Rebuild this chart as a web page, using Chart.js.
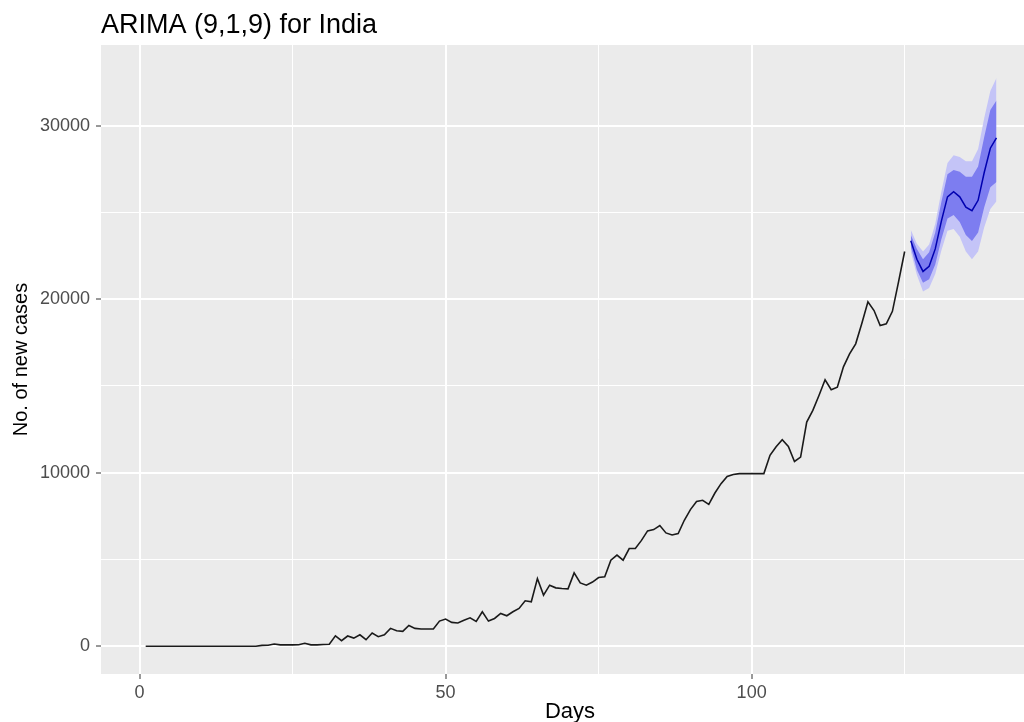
<!DOCTYPE html>
<html>
<head>
<meta charset="utf-8">
<script src="https://cdn.jsdelivr.net/npm/chart.js@4"></script>
<style>
  html, body { margin: 0; padding: 0; background: #fff; overflow: hidden; }
  #wrap { width: 1040px; height: 722px; }
</style>
</head>
<body>
<div id="wrap"><canvas id="myChart" width="1040" height="722"></canvas></div>
<script>
// Data
const chartTitle = "ARIMA (9,1,9) for India";
const xTitle = "Days";
const yTitle = "No. of new cases";

// observed new cases, day 1 .. 125
const obsCases = [
    0, 0, 0, 0, 0, 0, 0, 0, 0, 0,
    0, 0, 0, 0, 0, 0, 0, 0, 0, 50,
    60, 130, 80, 80, 80, 90, 170, 80, 80, 100,
    110, 600, 320, 590, 470, 660, 375, 760, 550, 660,
    1030, 890, 860, 1200, 1030, 990, 990, 990, 1450, 1565,
    1375, 1340, 1500, 1640, 1430, 1985, 1450, 1600, 1890, 1755,
    1985, 2180, 2620, 2560, 3900, 2945, 3520, 3365, 3330, 3310,
    4230, 3650, 3520, 3700, 3960, 4000, 4960, 5250, 4960, 5630,
    5630, 6100, 6645, 6725, 6955, 6530, 6415, 6495, 7260, 7875,
    8340, 8410, 8180, 8830, 9370, 9790, 9900, 9950, 9950, 9950,
    9950, 9950, 11000, 11500, 11900, 11520, 10650, 10900, 12920, 13590,
    14450, 15360, 14780, 14930, 16100, 16850, 17430, 18600, 19850, 19345,
    18480, 18580, 19300, 21000, 22750
];

// forecast
const fcDays = [126, 127, 128, 129, 130, 131, 132, 133, 134, 135, 136, 137, 138, 139, 140];
const fcMean = [23370, 22300, 21600, 21900, 22900, 24500, 25900, 26200, 25900, 25300, 25100, 25700, 27300, 28700, 29300];
const lo80 = [23050, 21700, 20950, 21150, 22000, 23450, 24650, 24850, 24450, 23700, 23350, 23850, 25300, 26450, 26750];
const hi80 = [23700, 22900, 22300, 22700, 23850, 25600, 27200, 27450, 27350, 27050, 27050, 27650, 29350, 30900, 31450];
const lo95 = [22750, 21400, 20450, 20650, 21450, 22800, 23950, 24050, 23600, 22750, 22300, 22750, 24150, 25200, 25650];
const hi95 = [24000, 23200, 22750, 23150, 24350, 26200, 27850, 28300, 28200, 27950, 27950, 28650, 30450, 32000, 32750];

// tick values (major get labels, minor only grid)
const xTicks = [0, 25, 50, 75, 100, 125];
const yTicks = [0, 5000, 10000, 15000, 20000, 25000, 30000];

const toPoints = (xs, ys) => xs.map((d, i) => ({x: d, y: ys[i]}));
const obsPoints = obsCases.map((v, i) => ({x: i + 1, y: v}));

const FONT = '"Liberation Sans", Arial, sans-serif';

// panel background + titles, ggplot style
const ggPlugin = {
    id: 'ggPanel',
    beforeDraw(chart) {
        const {ctx, chartArea} = chart;
        ctx.save();
        ctx.fillStyle = '#FFFFFF';
        ctx.fillRect(0, 0, chart.width, chart.height);
        ctx.fillStyle = '#EBEBEB';
        ctx.fillRect(chartArea.left, chartArea.top, chartArea.right - chartArea.left, chartArea.bottom - chartArea.top);
        ctx.restore();
    },
    afterDraw(chart) {
        const {ctx, chartArea} = chart;
        ctx.save();
        ctx.fillStyle = '#000000';
        ctx.font = '27px ' + FONT;
        ctx.textAlign = 'left';
        ctx.textBaseline = 'alphabetic';
        ctx.fillText(chartTitle, chartArea.left, 33);

        ctx.font = '22px ' + FONT;
        ctx.textAlign = 'center';
        ctx.textBaseline = 'middle';
        ctx.fillText(xTitle, (chartArea.left + chartArea.right) / 2, 712);

        ctx.translate(21, (chartArea.top + chartArea.bottom) / 2);
        ctx.rotate(-Math.PI / 2);
        ctx.font = '20px ' + FONT;
        ctx.fillText(yTitle, 0, 0);
        ctx.restore();
    }
};

const majorX = v => v % 50 === 0;
const majorY = v => v % 10000 === 0;

new Chart(document.getElementById('myChart').getContext('2d'), {
    type: 'line',
    data: {
        datasets: [
            { data: toPoints(fcDays, lo95), borderColor: 'transparent', borderWidth: 0, pointRadius: 0, fill: false, order: 5 },
            { data: toPoints(fcDays, hi95), borderColor: 'transparent', borderWidth: 0, pointRadius: 0, fill: '-1', backgroundColor: '#C4C4F7', order: 4 },
            { data: toPoints(fcDays, lo80), borderColor: 'transparent', borderWidth: 0, pointRadius: 0, fill: false, order: 3 },
            { data: toPoints(fcDays, hi80), borderColor: 'transparent', borderWidth: 0, pointRadius: 0, fill: '-1', backgroundColor: '#7D7DF0', order: 2 },
            { data: toPoints(fcDays, fcMean), borderColor: '#0000B0', borderWidth: 1.5, pointRadius: 0, fill: false, order: 1 },
            { data: obsPoints, borderColor: '#1A1A1A', borderWidth: 1.6, pointRadius: 0, fill: false, order: 0 }
        ]
    },
    options: {
        responsive: false,
        animation: false,
        devicePixelRatio: 1,
        layout: { padding: { top: 45, left: 0, right: 1, bottom: 0 } },
        plugins: {
            legend: { display: false },
            tooltip: { enabled: false },
            title: { display: false }
        },
        scales: {
            x: {
                type: 'linear',
                min: -6.3,
                max: 146.95,
                afterBuildTicks: s => { s.ticks = xTicks.map(v => ({value: v})); },
                afterFit: s => { s.height = 48; },
                border: { display: false },
                grid: {
                    color: '#FFFFFF',
                    lineWidth: c => (c.tick && majorX(c.tick.value)) ? 2 : 1,
                    tickColor: c => (c.tick && majorX(c.tick.value)) ? '#333333' : 'rgba(0,0,0,0)',
                    tickWidth: 1,
                    tickLength: 5
                },
                ticks: {
                    autoSkip: false,
                    maxRotation: 0,
                    padding: 3,
                    color: '#4D4D4D',
                    font: { family: FONT, size: 18 },
                    callback: v => majorX(v) ? String(v) : ''
                }
            },
            y: {
                type: 'linear',
                min: -1600,
                max: 34650,
                afterBuildTicks: s => { s.ticks = yTicks.map(v => ({value: v})); },
                afterFit: s => { s.width = 101; },
                border: { display: false },
                grid: {
                    color: '#FFFFFF',
                    lineWidth: c => (c.tick && majorY(c.tick.value)) ? 2 : 1,
                    tickColor: c => (c.tick && majorY(c.tick.value)) ? '#333333' : 'rgba(0,0,0,0)',
                    tickWidth: 1,
                    tickLength: 5
                },
                ticks: {
                    autoSkip: false,
                    padding: 6,
                    color: '#4D4D4D',
                    font: { family: FONT, size: 18 },
                    callback: v => majorY(v) ? String(v) : ''
                }
            }
        }
    },
    plugins: [ggPlugin]
});
</script>
</body>
</html>
